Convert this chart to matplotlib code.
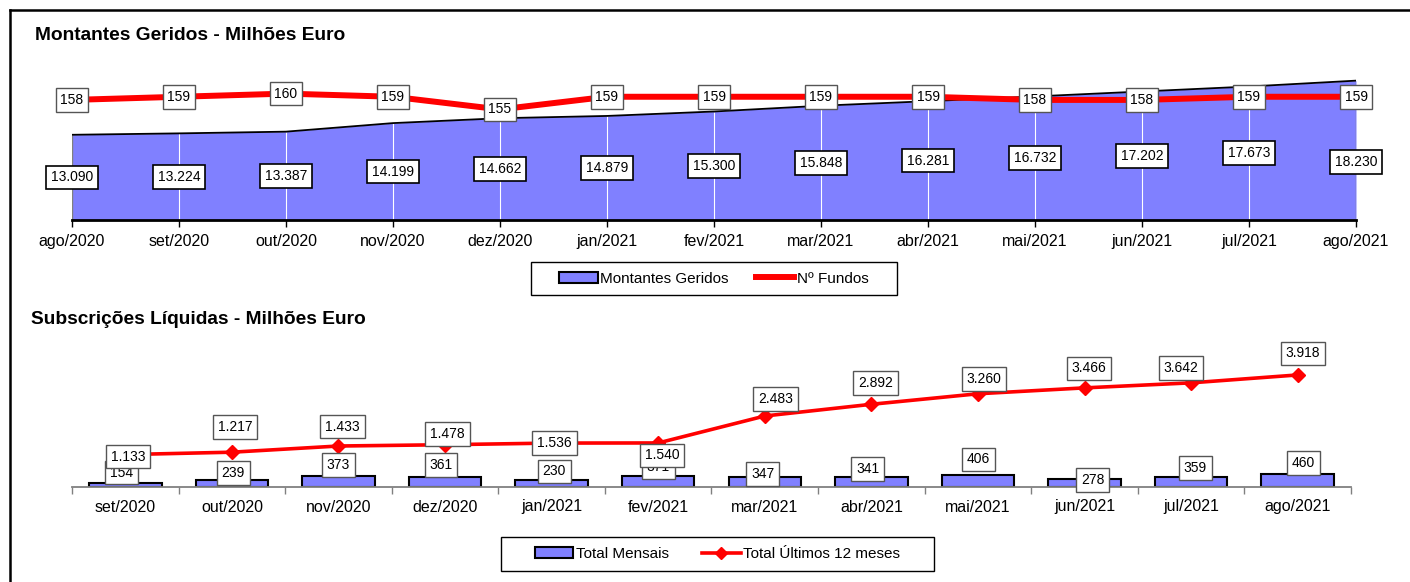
import matplotlib

matplotlib.use("Agg")
import matplotlib.pyplot as plt
import numpy as np
from matplotlib.lines import Line2D
from matplotlib.patches import Patch, Rectangle

plt.rcParams["font.family"] = ["Liberation Sans", "DejaVu Sans"]

# --- data -------------------------------------------------------------
meses_top = ["ago/2020", "set/2020", "out/2020", "nov/2020", "dez/2020", "jan/2021",
             "fev/2021", "mar/2021", "abr/2021", "mai/2021", "jun/2021", "jul/2021", "ago/2021"]
montantes = [13090, 13224, 13387, 14199, 14662, 14879, 15300, 15848, 16281, 16732, 17202, 17673, 18230]
n_fundos = [158, 159, 160, 159, 155, 159, 159, 159, 159, 158, 158, 159, 159]

meses_bottom = ["set/2020", "out/2020", "nov/2020", "dez/2020", "jan/2021", "fev/2021",
                "mar/2021", "abr/2021", "mai/2021", "jun/2021", "jul/2021", "ago/2021"]
mensais = [154, 239, 373, 361, 230, 371, 347, 341, 406, 278, 359, 460]
ultimos12 = [1133, 1217, 1433, 1478, 1536, 1540, 2483, 2892, 3260, 3466, 3642, 3918]

# label nudges (pixels), as placed in the original
mont_dy = [0] * 12 + [-12]
bar_dx = [-4, 1.5, 0, -4, 2.5, 0, -2, -3.5, 0.5, 8, 4, 6]
bar_dy = [10, 7, 11, 12, 9, 9, 3, 8, 16, -1, 8.5, 11]
line_dx = [3, 3, 4, 2.5, 3, 4, 11, 4, 6, 4.5, -10, 5]
line_dy = [-2, 25, 19.5, 11, 0, -12.5, 17, 21, 15, 19.5, 15, 21.5]

AREA = "#8080FF"
W, H = 1410, 582
LBL = 10


def fmt(v):
    return f"{v:,.0f}".replace(",", ".")


def fbox(x0, y0, x1, y1):
    return [x0 / W, 1 - y1 / H, (x1 - x0) / W, (y1 - y0) / H]


fig = plt.figure(figsize=(W / 100, H / 100), dpi=100)

# outer frame (left + top)
fig.add_artist(Line2D([10 / W, 1], [1 - 10 / H, 1 - 10 / H], color="black", lw=1.8, transform=fig.transFigure))
fig.add_artist(Line2D([10 / W, 10 / W], [0, 1 - 10 / H], color="black", lw=1.8, transform=fig.transFigure))

# --- top: Montantes Geridos ------------------------------------------
ax1 = fig.add_axes(fbox(72, 62, 1356, 220))
x = np.arange(len(montantes))
ax1.fill_between(x, 5000, montantes, color=AREA, lw=0, zorder=1)
ax1.vlines(x[1:-1], 5000, montantes[1:-1], color="white", lw=0.8, zorder=2)
ax1.vlines([x[0], x[-1]], 5000, [montantes[0], montantes[-1]], color="#808080", lw=1.0, zorder=2)
ax1.plot(x, montantes, color="black", lw=1.3, zorder=3)
ax1.set_xlim(0, 12)
ax1.set_ylim(5000, 20000)
for s in ["top", "left", "right"]:
    ax1.spines[s].set_visible(False)
ax1.spines["bottom"].set_linewidth(2.0)
ax1.set_yticks([])
ax1.set_xticks(x)
ax1.set_xticklabels(meses_top)
ax1.tick_params(axis="x", length=5, width=1, pad=5, labelsize=11.5)

for i, v in enumerate(montantes):
    ax1.annotate(fmt(v), (i, (5000 + v) / 2), xytext=(0, mont_dy[i]), textcoords="offset pixels",
                 ha="center", va="center", fontsize=LBL, zorder=6, annotation_clip=False,
                 bbox=dict(boxstyle="square,pad=0.35", fc="white", ec="black", lw=1.2))

ax1b = ax1.twinx()
ax1b.plot(x, n_fundos, color="#FF0000", lw=4.3, zorder=2, solid_capstyle="butt")
ax1b.set_ylim(120, 170)
ax1b.set_axis_off()
for i, v in enumerate(n_fundos):
    ax1b.annotate(str(v), (i, v), ha="center", va="center", fontsize=LBL, zorder=5, annotation_clip=False,
                  bbox=dict(boxstyle="square,pad=0.35", fc="white", ec="#555555", lw=1.0))

fig.text(35 / W, 1 - 36 / H, "Montantes Geridos - Milhões Euro", fontsize=13.8, fontweight="bold", va="center")

fig.add_artist(Rectangle((531 / W, 1 - 295 / H), 366 / W, 33 / H, fill=False, ec="black", lw=1.0,
                         transform=fig.transFigure))
fig.legend([Patch(fc=AREA, ec="black", lw=1.5), Line2D([], [], color="#FF0000", lw=4.3)],
           ["Montantes Geridos", "Nº Fundos"], loc="center", bbox_to_anchor=(714 / W, 1 - 278.5 / H),
           ncol=2, frameon=False, fontsize=11, handlelength=2.5, handletextpad=0.17, columnspacing=1.8)

# --- bottom: Subscrições Líquidas ------------------------------------
ax2 = fig.add_axes(fbox(72, 344, 1351, 487))
xb = np.arange(len(mensais))
ax2.bar(xb, mensais, width=0.68, color=AREA, edgecolor="black", lw=1.5, zorder=2)
ax2.plot(xb, ultimos12, color="#FF0000", lw=2.6, marker="D", ms=7, zorder=3)
ax2.set_xlim(-0.5, 11.5)
ax2.set_ylim(0, 5000)
for s in ["top", "left", "right"]:
    ax2.spines[s].set_visible(False)
ax2.spines["bottom"].set_color("#808080")
ax2.spines["bottom"].set_linewidth(1.3)
ax2.set_yticks([])
ax2.set_xticks(np.arange(len(mensais) + 1) - 0.5)
ax2.set_xticklabels([])
ax2.set_xticks(xb, minor=True)
ax2.set_xticklabels(meses_bottom, minor=True)
ax2.tick_params(axis="x", which="major", length=5, width=1, color="#808080")
ax2.tick_params(axis="x", which="minor", length=0, pad=9, labelsize=11.5)

for i, v in enumerate(mensais):
    ax2.annotate(fmt(v), (i, v), xytext=(bar_dx[i], bar_dy[i]), textcoords="offset pixels",
                 ha="center", va="center", fontsize=LBL, zorder=4, annotation_clip=False,
                 bbox=dict(boxstyle="square,pad=0.35", fc="white", ec="#555555", lw=1.0))
for i, v in enumerate(ultimos12):
    ax2.annotate(fmt(v), (i, v), xytext=(line_dx[i], line_dy[i]), textcoords="offset pixels",
                 ha="center", va="center", fontsize=LBL, zorder=5, annotation_clip=False,
                 bbox=dict(boxstyle="square,pad=0.35", fc="white", ec="#555555", lw=1.0))

fig.text(31 / W, 1 - 320 / H, "Subscrições Líquidas - Milhões Euro", fontsize=13.8, fontweight="bold", va="center")

fig.add_artist(Rectangle((501 / W, 1 - 571 / H), 433 / W, 34 / H, fill=False, ec="black", lw=1.0,
                         transform=fig.transFigure))
fig.legend([Patch(fc=AREA, ec="black", lw=1.5), Line2D([], [], color="#FF0000", lw=2.6, marker="D", ms=6)],
           ["Total Mensais", "Total Últimos 12 meses"], loc="center", bbox_to_anchor=(717.5 / W, 1 - 554 / H),
           ncol=2, frameon=False, fontsize=11, handlelength=2.5, handletextpad=0.17, columnspacing=2.2)

fig.savefig("out.png", dpi=100, facecolor="white")
plt.close(fig)
